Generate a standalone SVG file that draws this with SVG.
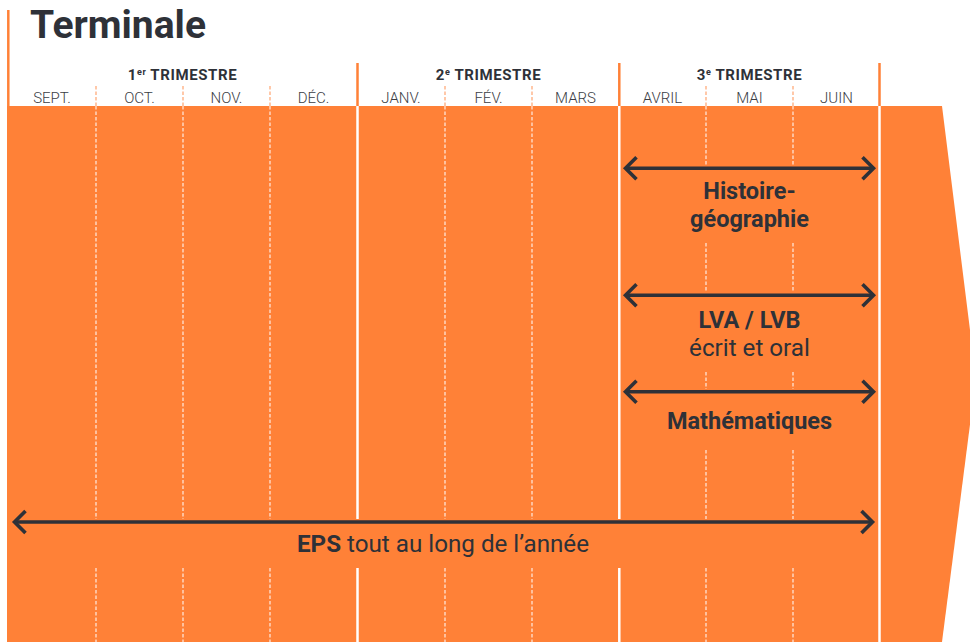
<svg xmlns="http://www.w3.org/2000/svg" width="970" height="642" viewBox="0 0 970 642">
<style>
.t{font-family:Roboto,"Liberation Sans",sans-serif;fill:#2E3138}
.title{font-size:39px;font-weight:700}
.tri{font-size:15px;font-weight:700;letter-spacing:0.6px;text-anchor:middle}
.sup{font-size:9px}
.mo{font-size:15px;font-weight:300;text-anchor:middle;fill:#3A3D44}
.lb{font-size:23.5px;font-weight:700;text-anchor:middle}
.lr{font-size:24.2px;font-weight:400;text-anchor:middle}
.hsolid{stroke:#FF8137;stroke-width:2.5}
.hdash{stroke:#FFA470;stroke-width:1.2;stroke-dasharray:3.5 2}
.wsolid{stroke:#FFFFFF;stroke-width:2.5}
.wdash{stroke:#FFFFFF;stroke-width:1.2;stroke-dasharray:3.5 2;opacity:0.85}
.arr{stroke:#2E3138;stroke-width:3.6;fill:none;marker-start:url(#chev);marker-end:url(#chev)}
</style>
<defs>
<marker id="chev" viewBox="-16 -16 20 32" refX="0" refY="0" markerWidth="20" markerHeight="32" markerUnits="userSpaceOnUse" orient="auto-start-reverse" overflow="visible">
<path d="M-11,-11 L0,0 L-11,11" fill="none" stroke="#2E3138" stroke-width="3.6" stroke-linejoin="miter"/>
</marker>
</defs>
<rect width="970" height="642" fill="#FFFFFF"/>

<g id="title">
<text class="t title" x="30" y="38">Terminale</text>
</g>

<g id="band">
<polygon points="7,106 942,106 976,378 942,642 7,642" fill="#FF8137"/>
</g>

<g id="header-lines">
<line class="hsolid" x1="8.3" y1="10" x2="8.3" y2="106"/>
<line class="hsolid" x1="357.5" y1="63" x2="357.5" y2="106"/>
<line class="hsolid" x1="619.3" y1="63" x2="619.3" y2="106"/>
<line class="hsolid" x1="879.5" y1="63" x2="879.5" y2="106"/>
<g class="hdash">
<line x1="96" y1="86" x2="96" y2="106"/>
<line x1="183" y1="86" x2="183" y2="106"/>
<line x1="270" y1="86" x2="270" y2="106"/>
<line x1="445" y1="86" x2="445" y2="106"/>
<line x1="532" y1="86" x2="532" y2="106"/>
<line x1="706" y1="86" x2="706" y2="106"/>
<line x1="793" y1="86" x2="793" y2="106"/>
</g>
</g>

<g id="band-lines">
<g class="wsolid">
<line x1="357.5" y1="106" x2="357.5" y2="519"/>
<line x1="357.5" y1="568" x2="357.5" y2="642"/>
<line x1="619.3" y1="106" x2="619.3" y2="519"/>
<line x1="619.3" y1="568" x2="619.3" y2="642"/>
<line x1="879.5" y1="106" x2="879.5" y2="642"/>
</g>
<g class="wdash">
<line x1="96" y1="106" x2="96" y2="519"/><line x1="96" y1="568" x2="96" y2="642"/>
<line x1="183" y1="106" x2="183" y2="519"/><line x1="183" y1="568" x2="183" y2="642"/>
<line x1="270" y1="106" x2="270" y2="519"/><line x1="270" y1="568" x2="270" y2="642"/>
<line x1="445" y1="106" x2="445" y2="519"/><line x1="445" y1="568" x2="445" y2="642"/>
<line x1="532" y1="106" x2="532" y2="519"/><line x1="532" y1="568" x2="532" y2="642"/>
<line x1="706" y1="106" x2="706" y2="165"/><line x1="706" y1="243" x2="706" y2="292"/><line x1="706" y1="372" x2="706" y2="389"/><line x1="706" y1="450" x2="706" y2="519"/><line x1="706" y1="568" x2="706" y2="642"/>
<line x1="793" y1="106" x2="793" y2="165"/><line x1="793" y1="243" x2="793" y2="292"/><line x1="793" y1="372" x2="793" y2="389"/><line x1="793" y1="450" x2="793" y2="519"/><line x1="793" y1="568" x2="793" y2="642"/>
</g>
</g>

<g id="trimestre1">
<text class="t tri" x="182.5" y="80">1<tspan class="sup" dy="-5">er</tspan><tspan dy="5"> TRIMESTRE</tspan></text>
<text class="t mo" x="52" y="102.5">SEPT.</text>
<text class="t mo" x="139.5" y="102.5">OCT.</text>
<text class="t mo" x="226.5" y="102.5">NOV.</text>
<text class="t mo" x="313.5" y="102.5">DÉC.</text>
</g>
<g id="trimestre2">
<text class="t tri" x="488.5" y="80">2<tspan class="sup" dy="-5">e</tspan><tspan dy="5"> TRIMESTRE</tspan></text>
<text class="t mo" x="401" y="102.5">JANV.</text>
<text class="t mo" x="488.5" y="102.5">FÉV.</text>
<text class="t mo" x="575.5" y="102.5">MARS</text>
</g>
<g id="trimestre3">
<text class="t tri" x="749.5" y="80">3<tspan class="sup" dy="-5">e</tspan><tspan dy="5"> TRIMESTRE</tspan></text>
<text class="t mo" x="662.5" y="102.5">AVRIL</text>
<text class="t mo" x="749.5" y="102.5">MAI</text>
<text class="t mo" x="836.5" y="102.5">JUIN</text>
</g>

<g id="connectors">
<line class="arr" x1="625.5" y1="168.3" x2="873.5" y2="168.3"/>
<line class="arr" x1="625.5" y1="295.3" x2="873.5" y2="295.3"/>
<line class="arr" x1="625.5" y1="391.7" x2="873.5" y2="391.7"/>
<line class="arr" x1="14.5" y1="522" x2="872.5" y2="522"/>
</g>

<g id="histoire">
<text class="t lb" x="749.5" y="199.3">Histoire-</text>
<text class="t lb" x="749.5" y="226.7">géographie</text>
</g>
<g id="lva">
<text class="t lb" x="749.5" y="327.7">LVA / LVB</text>
<text class="t lr" x="749.5" y="356">écrit et oral</text>
</g>
<g id="maths">
<text class="t lb" x="749.5" y="429.3">Mathématiques</text>
</g>
<g id="eps">
<text class="t lr" x="443" y="552"><tspan font-weight="700">EPS</tspan> tout au long de l’année</text>
</g>
</svg>
